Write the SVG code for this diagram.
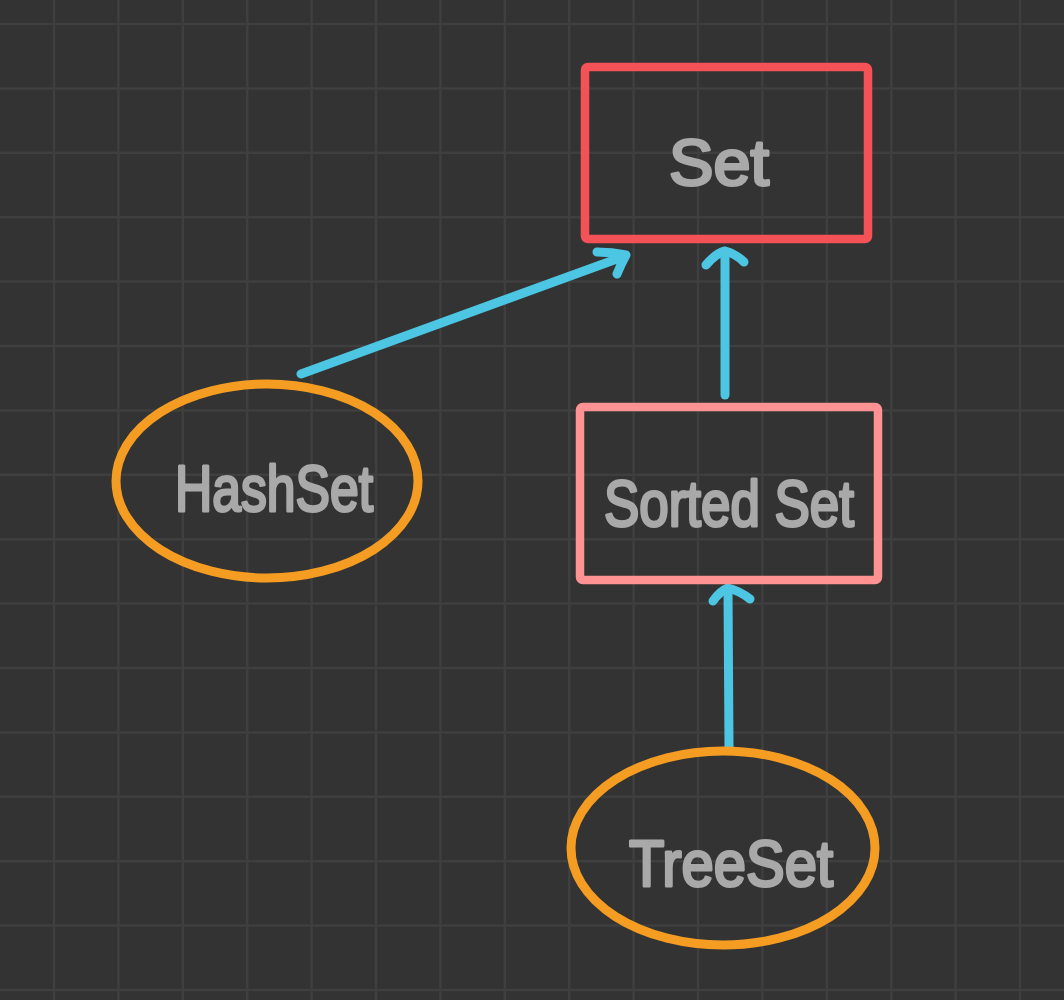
<svg xmlns="http://www.w3.org/2000/svg" width="1064" height="1000" viewBox="0 0 1064 1000">
  <defs>
    <style>
      .grid { stroke: #3f3f3f; stroke-width: 2.5; fill: none; }
      .node-rect { fill: none; stroke-width: 8.5; stroke-linejoin: round; }
      .node-ell { fill: none; stroke: #f59d22; stroke-width: 9; }
      .label { font-family: "Liberation Sans", "Noto Sans", sans-serif; font-size: 64px; fill: #a9a9a9; stroke: #a9a9a9; stroke-width: 3; stroke-linejoin: round; text-anchor: middle; }
      .conn { fill: none; stroke: #4cc6e3; stroke-width: 9; stroke-linecap: round; stroke-linejoin: round; }
    </style>
  </defs>
  <rect x="0" y="0" width="1064" height="1000" fill="#333333"/>
  <g id="grid">
    <path class="grid" d="M54 0V1000M118.4 0V1000M182.8 0V1000M247.2 0V1000M311.6 0V1000M376 0V1000M440.4 0V1000M504.8 0V1000M569.2 0V1000M633.6 0V1000M698 0V1000M762.4 0V1000M826.8 0V1000M891.2 0V1000M955.6 0V1000M1020 0V1000"/>
    <path class="grid" d="M0 24H1064M0 88.4H1064M0 152.8H1064M0 217.2H1064M0 281.6H1064M0 346H1064M0 410.4H1064M0 474.8H1064M0 539.2H1064M0 603.6H1064M0 668H1064M0 732.4H1064M0 796.8H1064M0 861.2H1064M0 925.6H1064M0 990H1064"/>
  </g>
  <g id="connectors">
    <path class="conn" d="M301 374L625 256"/>
    <path class="conn" d="M597 252Q612 252 626 255Q621 264 617 274"/>
    <path class="conn" d="M725 395L725 252"/>
    <path class="conn" d="M706 265Q716 253 725 251Q736 254 744 262"/>
    <path class="conn" d="M729 747L728 590"/>
    <path class="conn" d="M713 601Q720 591 728 588Q740 591 750 599"/>
  </g>
  <g id="node-set">
    <rect class="node-rect" x="585" y="67" width="283" height="172" rx="3" stroke="#f55257"/>
    <text class="label" x="719" y="185" textLength="100" lengthAdjust="spacingAndGlyphs">Set</text>
  </g>
  <g id="node-hashset">
    <ellipse class="node-ell" cx="267" cy="481" rx="151" ry="97"/>
    <text class="label" x="274" y="511" textLength="198" lengthAdjust="spacingAndGlyphs">HashSet</text>
  </g>
  <g id="node-sortedset">
    <rect class="node-rect" x="580" y="407" width="298" height="173" rx="3" stroke="#ff9393"/>
    <text class="label" x="729" y="526" textLength="250" lengthAdjust="spacingAndGlyphs">Sorted Set</text>
  </g>
  <g id="node-treeset">
    <ellipse class="node-ell" cx="723" cy="848" rx="152" ry="97"/>
    <text class="label" x="731" y="886" textLength="204" lengthAdjust="spacingAndGlyphs">TreeSet</text>
  </g>
</svg>
